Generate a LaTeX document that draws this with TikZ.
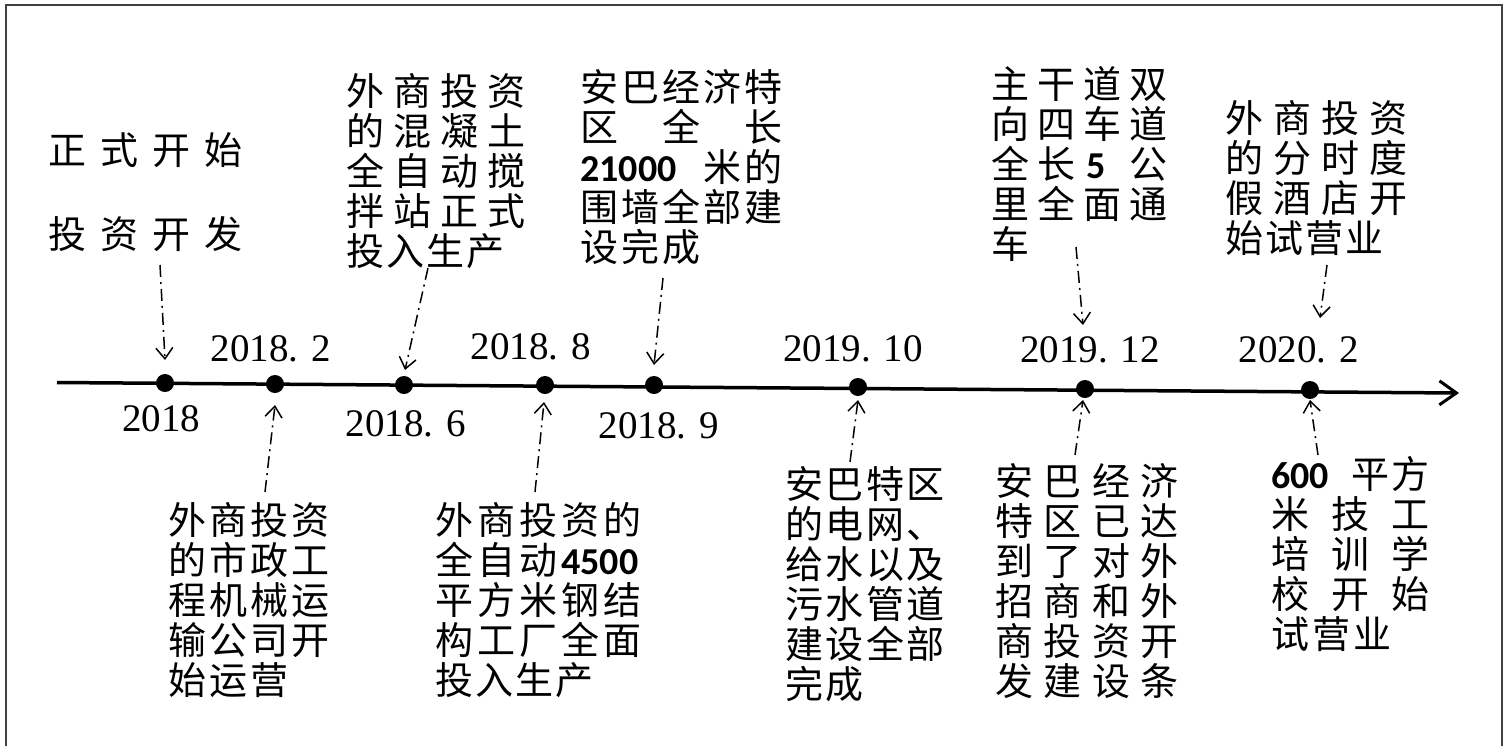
\documentclass[tikz,border=0pt]{standalone}
\usepackage{fontspec}
\setmainfont{Liberation Serif}
\newfontfamily\cjk{Noto Sans CJK SC}
\newfontfamily\nbfont{Carlito}
\usetikzlibrary{arrows.meta,calc}
\newdimen\cpitch
\def\cl#1{\clx#1\relax}
\def\clx#1{\ifx\relax#1\else\makebox[\cpitch][l]{#1}\expandafter\clx\fi}
\newcommand\nb[1]{{\nbfont\bfseries #1}}
\newcommand\pl[2]{\cpitch=#1pt\cl{#2}}
\newcommand\st{\rule{0pt}{34pt}}
\tikzset{
  blk/.style={anchor=north west,inner sep=0pt,align=left,font=\cjk\fontsize{38}{40}\selectfont},
  date/.style={inner sep=0pt,font=\fontsize{39}{40}\selectfont},
  dot/.style={circle,fill=black,inner sep=0pt,minimum size=18pt},
  conn/.style={line width=1.5pt,dash pattern=on 12pt off 5pt on 2pt off 5pt,-{Straight Barb[length=11pt,width=17pt,line width=1.5pt]}},
  axis/.style={line width=3.5pt,-{Straight Barb[length=17pt,width=24pt,line width=3pt]}}
}
\begin{document}
\begin{tikzpicture}[x=1pt,y=-1pt]
\useasboundingbox (0,0) rectangle (1510,745);
% frame
\draw[line width=2pt,black!75] (6,5) rectangle (1502,770);
% axis
\coordinate (ax0) at (57,382.5);
\coordinate (ax1) at (1459,393);
\draw[axis] (ax0) -- (ax1);
% dots
\node[dot] (d0) at (165,383) {};
\node[dot] (d1) at (275,384) {};
\node[dot] (d2) at (404,385) {};
\node[dot] (d3) at (545,385) {};
\node[dot] (d4) at (654,385) {};
\node[dot] (d5) at (858,387) {};
\node[dot] (d6) at (1085,389) {};
\node[dot] (d7) at (1310,390) {};
% dates
\node[date] (l0) at (161,419) {2018};
\node[date] (l1) at (271,349) {2018. 2};
\node[date] (l2) at (406,424) {2018. 6};
\node[date] (l3) at (531,347) {2018. 8};
\node[date] (l4) at (659,426) {2018. 9};
\node[date] (l5) at (853,349) {2019. 10};
\node[date] (l6) at (1090,350) {2019. 12};
\node[date] (l7) at (1299,350) {2020. 2};
% top blocks
\node[blk,font=\cjk\fontsize{38}{84}\selectfont] (A) at (48,130) {\st\pl{52}{正式开始}\\\pl{52}{投资开发}};
\node[blk] (C) at (346,71) {\st\pl{47}{外商投资}\\\pl{47}{的混凝土}\\\pl{47}{全自动搅}\\\pl{47}{拌站正式}\\\pl{40}{投入生产}};
\node[blk] (D) at (580,67) {\st\pl{41}{安巴经济特}\\\pl{41}{区　全　长}\\\makebox[123pt][l]{\nb{21000}}\pl{41}{米的}\\\pl{41}{围墙全部建}\\\pl{41}{设完成}};
\node[blk] (E) at (991,64) {\st\pl{46}{主干道双}\\\pl{46}{向四车道}\\\pl{46}{全长{\nb{\hspace{3pt}5}}公}\\\pl{46}{里全面通}\\\pl{46}{车}};
\node[blk] (F) at (1225,98) {\st\pl{48}{外商投资}\\\pl{48}{的分时度}\\\pl{48}{假酒店开}\\\pl{40}{始试营业}};
% bottom blocks
\node[blk] (B) at (168,500) {\st\pl{41}{外商投资}\\\pl{41}{的市政工}\\\pl{41}{程机械运}\\\pl{41}{输公司开}\\\pl{41}{始运营}};
\node[blk] (G) at (435,500) {\st\pl{42}{外商投资的}\\\pl{42}{全自动{\nb{4500}}}\\\pl{42}{平方米钢结}\\\pl{42}{构工厂全面}\\\pl{40}{投入生产}};
\node[blk] (H) at (785,464) {\st\pl{40.5}{安巴特区}\\\pl{40.5}{的电网、}\\\pl{40.5}{给水以及}\\\pl{40.5}{污水管道}\\\pl{40.5}{建设全部}\\\pl{40.5}{完成}};
\node[blk] (I) at (995,461) {\st\pl{48.5}{安巴经济}\\\pl{48.5}{特区已达}\\\pl{48.5}{到了对外}\\\pl{48.5}{招商和外}\\\pl{48.5}{商投资开}\\\pl{48.5}{发建设条}};
\node[blk] (J) at (1271,454) {\st\makebox[80pt][l]{\nb{600}}\pl{40}{平方}\\\pl{60}{米技工}\\\pl{60}{培训学}\\\pl{60}{校开始}\\\pl{41}{试营业}};
% connectors
\draw[conn] ($(A.north west)+(112,135)$) -- ($(d0)+(0,-23)$);
\draw[conn] ($(C.north west)+(82,197)$) -- ($(d2)+(1,-15)$);
\draw[conn] ($(D.north west)+(83,211)$) -- ($(d4)+(0,-20)$);
\draw[conn] ($(E.north west)+(85,183)$) -- ($(d6)+(-2,-64)$);
\draw[conn] ($(F.north west)+(102,167)$) -- ($(d7)+(10,-72)$);
\draw[conn] ($(B.north west)+(97,-8)$) -- ($(d1)+(0,21)$);
\draw[conn] ($(G.north west)+(100,-8)$) -- ($(d3)+(-1,17)$);
\draw[conn] ($(H.north west)+(65,-2)$) -- ($(d5)+(0,13)$);
\draw[conn] ($(I.north west)+(80,-6)$) -- ($(d6)+(-2,11)$);
\draw[conn] ($(J.north west)+(47,1)$) -- ($(d7)+(0,10)$);
\end{tikzpicture}
\end{document}
